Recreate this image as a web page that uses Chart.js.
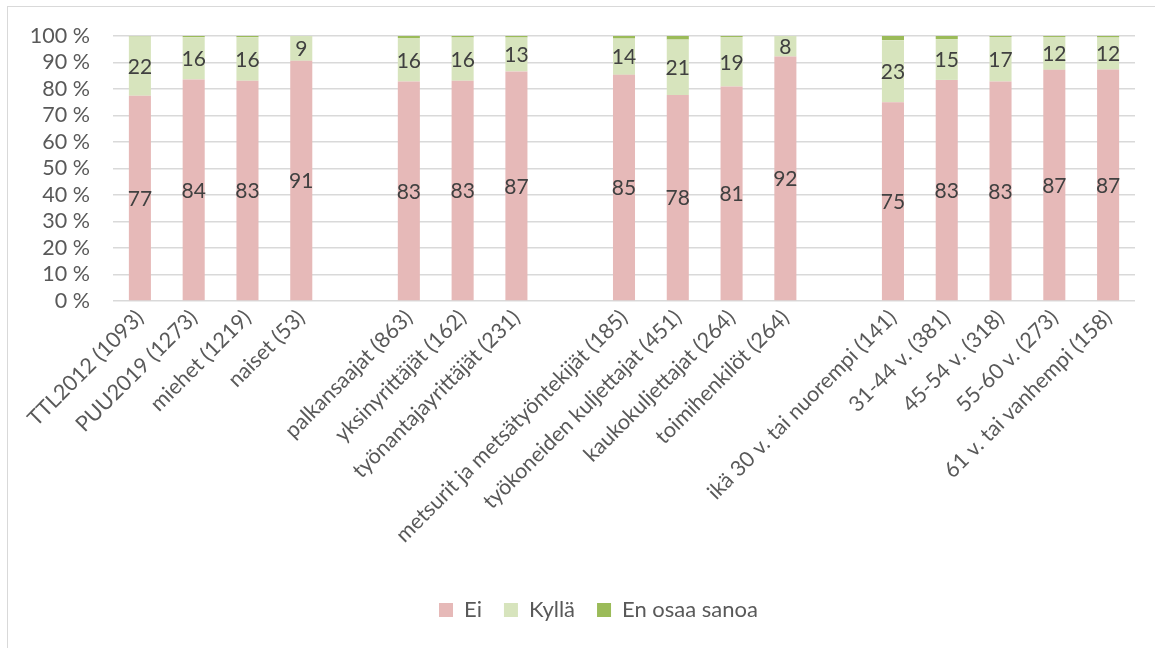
<!DOCTYPE html>
<html>
<head>
<meta charset="utf-8">
<script src="https://cdn.jsdelivr.net/npm/chart.js@4.4.1/dist/chart.umd.min.js"></script>
<style>
  html, body { margin: 0; padding: 0; background: #fff; }
  #wrap { position: relative; width: 1155px; height: 648px; overflow: hidden; }
  #frame { position: absolute; left: 7px; top: 6px; width: 1200px; height: 700px; border: 1px solid #D9D9D9; }
  canvas { position: absolute; left: 0; top: 0; }
</style>
</head>
<body>
<div id="wrap">
  <div id="frame"></div>
  <canvas id="myChart" width="1155" height="648"></canvas>
</div>
<script>
  // categories (empty strings = gaps between groups)
  var labels = ['TTL2012 (1093)', 'PUU2019 (1273)', 'miehet (1219)', 'naiset (53)', '',
    'palkansaajat (863)', 'yksinyrittäjät (162)', 'työnantajayrittäjät (231)', '',
    'metsurit ja metsätyöntekijät (185)', 'työkoneiden kuljettajat (451)', 'kaukokuljettajat (264)', 'toimihenkilöt (264)', '',
    'ikä 30 v. tai nuorempi (141)', '31-44 v. (381)', '45-54 v. (318)', '55-60 v. (273)', '61 v. tai vanhempi (158)'];

  var ei     = [77.4, 83.6, 83.1, 90.6, null, 82.8, 83.1, 86.6, null, 85.3, 77.7, 80.9, 92.2, null, 75.0, 83.4, 82.8, 87.2, 87.3];
  var kylla  = [22.4, 15.9, 16.4,  9.4, null, 16.4, 16.3, 12.8, null, 13.7, 20.9, 18.7,  7.8, null, 23.4, 15.4, 16.8, 12.4, 12.1];
  var enOsaa = [ 0.2,  0.5,  0.5,  0.0, null,  0.8,  0.6,  0.6, null,  1.0,  1.4,  0.4,  0.0, null,  1.6,  1.2,  0.4,  0.4,  0.6];

  var yTicks = [0, 10, 20, 30, 40, 50, 60, 70, 80, 90, 100];

  var FONT = 'Lato';

  // labels inside the Ei and Kyllä segments
  var segmentLabels = {
    id: 'segmentLabels',
    afterDatasetsDraw: function (chart) {
      var ctx = chart.ctx;
      ctx.save();
      ctx.font = '21px ' + FONT;
      ctx.fillStyle = '#404040';
      ctx.textAlign = 'center';
      ctx.textBaseline = 'middle';
      [0, 1].forEach(function (di) {
        var meta = chart.getDatasetMeta(di);
        meta.data.forEach(function (bar, i) {
          var v = chart.data.datasets[di].data[i];
          if (v === null || v === undefined) return;
          ctx.fillText(Math.round(v), bar.x, (bar.y + bar.base) / 2 + 1);
        });
      });
      ctx.restore();
    }
  };

  // legend sits a bit right of the canvas centre in the original
  var legendShift = {
    id: 'legendShift',
    afterLayout: function (chart) {
      var lg = chart.legend;
      if (!lg) return;
      lg.left += 62;
      if (lg.adjustHitBoxes) lg.adjustHitBoxes();
    }
  };

  var data = {
    labels: labels,
    datasets: [
      { label: 'Ei', data: ei, backgroundColor: '#E6B9B8', borderWidth: 0 },
      { label: 'Kyllä', data: kylla, backgroundColor: '#D7E4BD', borderWidth: 0 },
      { label: 'En osaa sanoa', data: enOsaa, backgroundColor: '#9BBB59', borderWidth: 0 }
    ]
  };

  var config = {
    type: 'bar',
    data: data,
    plugins: [segmentLabels, legendShift],
    options: {
      responsive: false,
      animation: false,
      layout: { padding: { left: 0, right: 20, top: 35, bottom: 17 } },
      datasets: { bar: { categoryPercentage: 1, barPercentage: 0.41 } },
      plugins: {
        tooltip: { enabled: false },
        legend: {
          position: 'bottom',
          labels: {
            boxWidth: 14,
            boxHeight: 14,
            padding: 22,
            color: '#595959',
            font: { family: FONT, size: 22 }
          }
        }
      },
      scales: {
        x: {
          stacked: true,
          grid: { display: false, drawTicks: false },
          border: { display: false },
          ticks: {
            autoSkip: false,
            maxRotation: 45,
            minRotation: 45,
            padding: 4,
            color: '#595959',
            font: { family: FONT, size: 21.5 }
          },
          afterFit: function (s) { s.height = 276; }
        },
        y: {
          stacked: true,
          min: 0,
          max: 100,
          afterBuildTicks: function (s) { s.ticks = yTicks.map(function (v) { return { value: v }; }); },
          grid: { color: '#D9D9D9', lineWidth: 1.5, drawTicks: false },
          border: { display: false },
          ticks: {
            autoSkip: false,
            padding: 23,
            color: '#595959',
            font: { family: FONT, size: 21.5 },
            callback: function (v) { return v + ' %'; }
          },
          afterFit: function (s) { s.width = 113; }
        }
      }
    }
  };

  var myChart = new Chart(document.getElementById('myChart'), config);
</script>
</body>
</html>
